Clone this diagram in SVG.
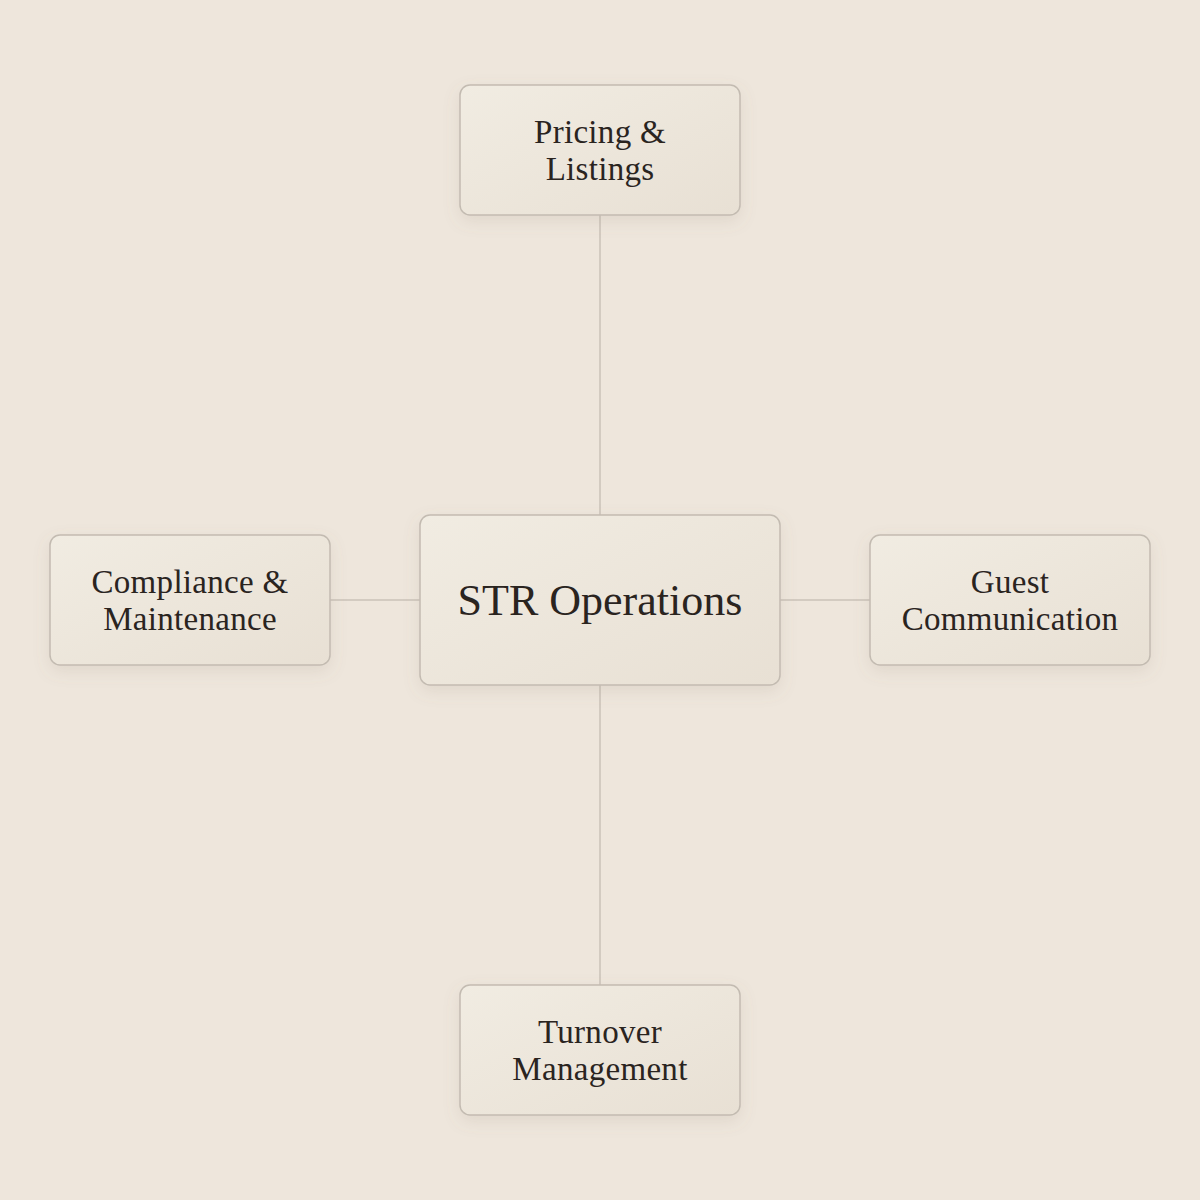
<svg xmlns="http://www.w3.org/2000/svg" width="1200" height="1200" viewBox="0 0 1200 1200">
  <defs>
    <linearGradient id="boxFill" x1="0" y1="0" x2="1" y2="1">
      <stop offset="0" stop-color="#F1ECE2"/>
      <stop offset="1" stop-color="#E8E0D4"/>
    </linearGradient>
    <filter id="shadow" x="-20%" y="-20%" width="140%" height="150%">
      <feDropShadow dx="0" dy="6" stdDeviation="8" flood-color="#8A7A66" flood-opacity="0.14"/>
    </filter>
  </defs>
  <style>
    .box { fill: url(#boxFill); stroke: #C3BBB1; stroke-width: 1.5; filter: url(#shadow); }
    .conn { stroke: #CAC2B8; stroke-width: 1.5; fill: none; }
    .label { font-family: "Liberation Serif", "DejaVu Serif", serif; fill: #2A241F; text-anchor: middle; }
    .small { font-size: 33px; letter-spacing: 0.3px; }
    .big { font-size: 44px; }
  </style>
  <rect width="1200" height="1200" fill="#EEE6DC"/>
  <g id="connectors">
    <line class="conn" x1="600" y1="215" x2="600" y2="515"/>
    <line class="conn" x1="600" y1="685" x2="600" y2="985"/>
    <line class="conn" x1="330" y1="600" x2="420" y2="600"/>
    <line class="conn" x1="780" y1="600" x2="870" y2="600"/>
  </g>
  <g id="node-center">
    <rect class="box" x="420" y="515" width="360" height="170" rx="10"/>
    <text class="label big" x="600" y="615">STR Operations</text>
  </g>
  <g id="node-pricing">
    <rect class="box" x="460" y="85" width="280" height="130" rx="10"/>
    <text class="label small" x="600" y="143">Pricing &amp;</text>
    <text class="label small" x="600" y="180">Listings</text>
  </g>
  <g id="node-compliance">
    <rect class="box" x="50" y="535" width="280" height="130" rx="10"/>
    <text class="label small" x="190" y="593">Compliance &amp;</text>
    <text class="label small" x="190" y="630">Maintenance</text>
  </g>
  <g id="node-guest">
    <rect class="box" x="870" y="535" width="280" height="130" rx="10"/>
    <text class="label small" x="1010" y="593">Guest</text>
    <text class="label small" x="1010" y="630">Communication</text>
  </g>
  <g id="node-turnover">
    <rect class="box" x="460" y="985" width="280" height="130" rx="10"/>
    <text class="label small" x="600" y="1043">Turnover</text>
    <text class="label small" x="600" y="1080">Management</text>
  </g>
</svg>
